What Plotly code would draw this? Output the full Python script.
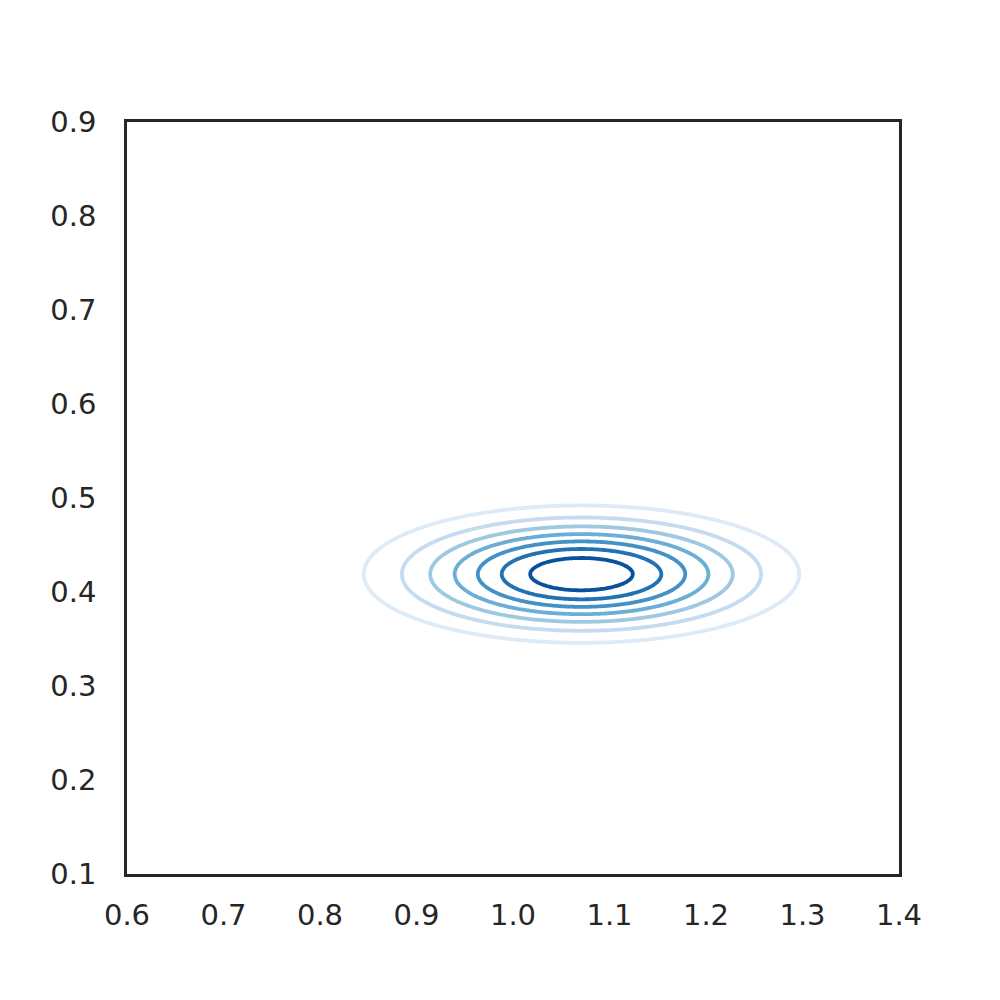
import numpy as np
import plotly.graph_objects as go

# density peak and spread (data units)
center_x = 1.071
center_y = 0.419
spread_x = 0.1158
spread_y = 0.0375

# contour levels as a fraction of the peak density
level_start = 0.15
level_end = 0.9
level_step = 0.125

x_ticks = [0.6, 0.7, 0.8, 0.9, 1.0, 1.1, 1.2, 1.3, 1.4]
y_ticks = [0.1, 0.2, 0.3, 0.4, 0.5, 0.6, 0.7, 0.8, 0.9]

# one colour per contour line, outermost to innermost
line_colors = ['#deebf7', '#c6dbef', '#9ecae1', '#6baed6',
               '#4292c6', '#2171b5', '#08519c']

gx = np.linspace(0.6, 1.4, 321)
gy = np.linspace(0.1, 0.9, 321)
X, Y = np.meshgrid(gx, gy)
Z = np.exp(-0.5 * (((X - center_x) / spread_x) ** 2 + ((Y - center_y) / spread_y) ** 2))

scale = [[i / (len(line_colors) - 1), c] for i, c in enumerate(line_colors)]

fig = go.Figure(go.Contour(
    x=gx, y=gy, z=Z,
    contours=dict(coloring='lines', start=level_start, end=level_end, size=level_step),
    colorscale=scale,
    line=dict(width=3.8), showscale=False, hoverinfo='skip'))

axis_style = dict(showline=True, mirror=True, linecolor='#262626', linewidth=2.5,
                  showgrid=False, zeroline=False, ticks='', tickformat='.1f',
                  tickfont=dict(family='DejaVu Sans', size=29, color='#262626'))

fig.update_layout(
    width=1000, height=1000,
    margin=dict(l=119, r=109, t=114, b=134),
    plot_bgcolor='white', paper_bgcolor='white',
    xaxis=dict(range=[0.6, 1.4], tickvals=x_ticks, ticklabelstandoff=13, **axis_style),
    yaxis=dict(range=[0.1, 0.9], tickvals=y_ticks, ticklabelstandoff=22, **axis_style),
)

fig.write_html("out.html")
